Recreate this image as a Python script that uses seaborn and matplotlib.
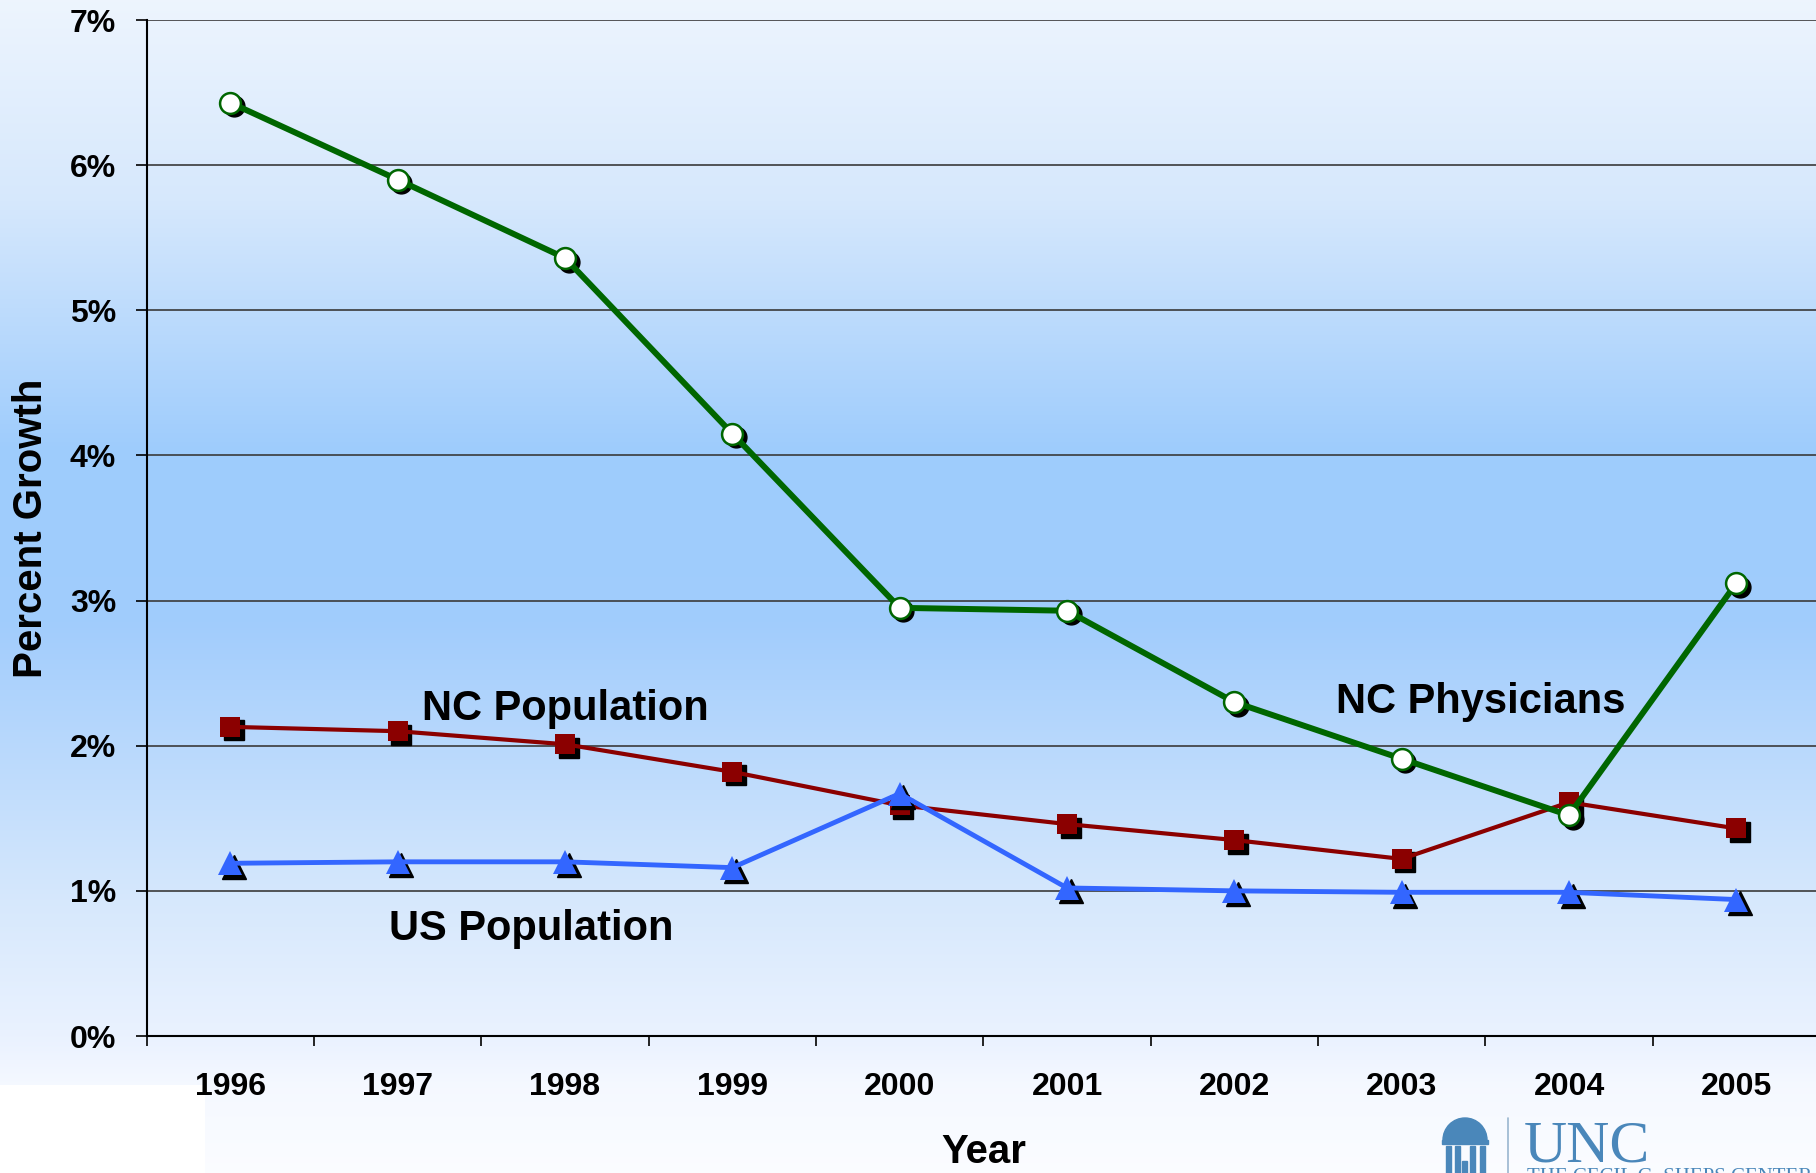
import numpy as np
import pandas as pd
import seaborn as sns
import matplotlib.pyplot as plt
from matplotlib import transforms
from matplotlib.patches import Rectangle, Wedge

years = [1996, 1997, 1998, 1999, 2000, 2001, 2002, 2003, 2004, 2005]
nc_physicians = [6.43, 5.90, 5.36, 4.15, 2.95, 2.93, 2.30, 1.91, 1.52, 3.12]
nc_population = [2.13, 2.10, 2.01, 1.82, 1.59, 1.46, 1.35, 1.22, 1.61, 1.43]
us_population = [1.19, 1.20, 1.20, 1.16, 1.67, 1.02, 1.00, 0.99, 0.99, 0.94]
y_ticks = [0, 1, 2, 3, 4, 5, 6, 7]

sns.set_theme(style="white")
plt.rcParams['font.family'] = ['Liberation Sans', 'DejaVu Sans']
plt.rcParams['font.weight'] = 'bold'
plt.rcParams['text.color'] = 'black'
plt.rcParams['axes.labelcolor'] = 'black'
plt.rcParams['xtick.color'] = 'black'
plt.rcParams['ytick.color'] = 'black'

W, H = 1816, 1173
fig = plt.figure(figsize=(W / 100, H / 100), dpi=100)


def fx(px):
    return px / W


def fy(py):
    return 1 - py / H


# slide background gradient
bg = fig.add_axes([0, 0, 1, 1], zorder=-10)
stops_y = [0, 200, 450, 620, 900, 1040, 1085, 1173]
stops_c = [(0.93, 0.96, 0.995), (0.84, 0.91, 0.99), (0.62, 0.80, 0.99),
           (0.63, 0.80, 0.99), (0.84, 0.91, 0.99), (0.92, 0.95, 1.0),
           (0.96, 0.975, 1.0), (0.985, 0.99, 1.0)]
rows = np.arange(H)
grad = np.stack([np.interp(rows, stops_y, [c[i] for c in stops_c]) for i in range(3)], axis=-1)
grad = np.repeat(grad[:, None, :], W, axis=1)
grad[1085:, :205, :] = 1.0
bg.imshow(grad, aspect='auto', extent=[0, W, H, 0])
bg.set_axis_off()

ax = fig.add_axes([fx(146.7), fy(1036), fx(1820 - 146.7), (1036 - 20) / H])
ax.patch.set_alpha(0)

df = pd.DataFrame({"year": years, "phys": nc_physicians,
                   "ncpop": nc_population, "uspop": us_population})

shadow = transforms.offset_copy(ax.transData, fig=fig, x=3.5, y=-3.5, units='dots')

series = [
    ("ncpop", "#8b0000", 3.0, "s", 14, "#8b0000", "#8b0000", 0, 3),
    ("uspop", "#3366ff", 3.5, "^", 17, "#3366ff", "#3366ff", 0, 4),
    ("phys", "#006600", 4.3, "o", 15, "white", "#006600", 1.8, 5),
]
for col, color, lw, mk, ms, fc, ec, mew, z in series:
    ax.plot(df["year"], df[col], linestyle='none', marker=mk, markersize=ms,
            markerfacecolor='black', markeredgecolor='black', transform=shadow,
            zorder=z - 0.5)
    sns.lineplot(data=df, x="year", y=col, ax=ax, color=color, linewidth=lw,
                 marker=mk, markersize=ms, markerfacecolor=fc,
                 markeredgecolor=ec, markeredgewidth=mew, zorder=z)

ax.set_xlim(1995.5, 2005.5)
ax.set_ylim(0, 7)
ax.set_yticks(y_ticks)
ax.set_yticklabels([f"{t}%" for t in y_ticks])
ax.set_xticks(years)
ax.set_xticklabels([str(y) for y in years])
ax.set_xticks(np.arange(1995.5, 2006, 1.0), minor=True)
ax.tick_params(axis='x', which='major', length=0, pad=26, labelsize=23)
ax.tick_params(axis='x', which='minor', length=7.5, width=1.2, color='black',
               direction='out', bottom=True)
ax.tick_params(axis='y', length=8, width=1.2, color='black', direction='out',
               left=True, pad=14, labelsize=23)
for lab in ax.get_xticklabels() + ax.get_yticklabels():
    lab.set_fontweight('bold')

ax.yaxis.grid(True, color='#3a3a3a', linewidth=1.2)
ax.xaxis.grid(False)
for s in ['top', 'right']:
    ax.spines[s].set_visible(False)
for s in ['left', 'bottom']:
    ax.spines[s].set_color('black')
    ax.spines[s].set_linewidth(1.5)
ax.set_axisbelow(True)

ax.set_xlabel("Year", fontsize=29, fontweight='bold')
ax.set_ylabel("Percent Growth", fontsize=29, fontweight='bold')
ax.xaxis.set_label_coords(0.5, (fy(1152) - fy(1036)) / ((1036 - 20) / H))
ax.xaxis.label.set_va('center')
ax.yaxis.set_label_coords((fx(31) - fx(146.7)) / fx(1820 - 146.7), 0.5)
ax.yaxis.label.set_va('center')

ax.text(1998.0, 2.25, "NC Population", fontsize=30, fontweight='bold',
        ha='center', va='center', zorder=6)
ax.text(1997.8, 0.74, "US Population", fontsize=30, fontweight='bold',
        ha='center', va='center', zorder=6)
ax.text(2003.47, 2.30, "NC Physicians", fontsize=30, fontweight='bold',
        ha='center', va='center', zorder=6)

# UNC logo, bottom right
logo_blue = '#4a87ba'
fig.text(fx(1524), fy(1162), "UNC", fontsize=43, color=logo_blue,
         family=['Liberation Serif', 'DejaVu Serif'], fontweight='normal',
         ha='left', va='baseline')
fig.text(fx(1527), fy(1168), "THE CECIL G. SHEPS CENTER", fontsize=15,
         color=logo_blue, family=['Liberation Serif', 'DejaVu Serif'],
         fontweight='normal', ha='left', va='top')
fig.add_artist(plt.Line2D([fx(1508), fx(1508)], [fy(1118), fy(1173)],
                          color='#9ab6cf', linewidth=1.2))
fig.add_artist(Wedge((1465, H - 1140), 22, 0, 180, color=logo_blue,
                     transform=None))
fig.add_artist(Rectangle((1442, H - 1144), 46, 4, color=logo_blue, transform=None))
for cx in [1446, 1455, 1470, 1480]:
    fig.add_artist(Rectangle((cx, H - 1173), 5, 27, color=logo_blue, transform=None))
fig.add_artist(Rectangle((1462, H - 1173), 5, 12, color=logo_blue, transform=None))

fig.savefig("out.png", dpi=100)
